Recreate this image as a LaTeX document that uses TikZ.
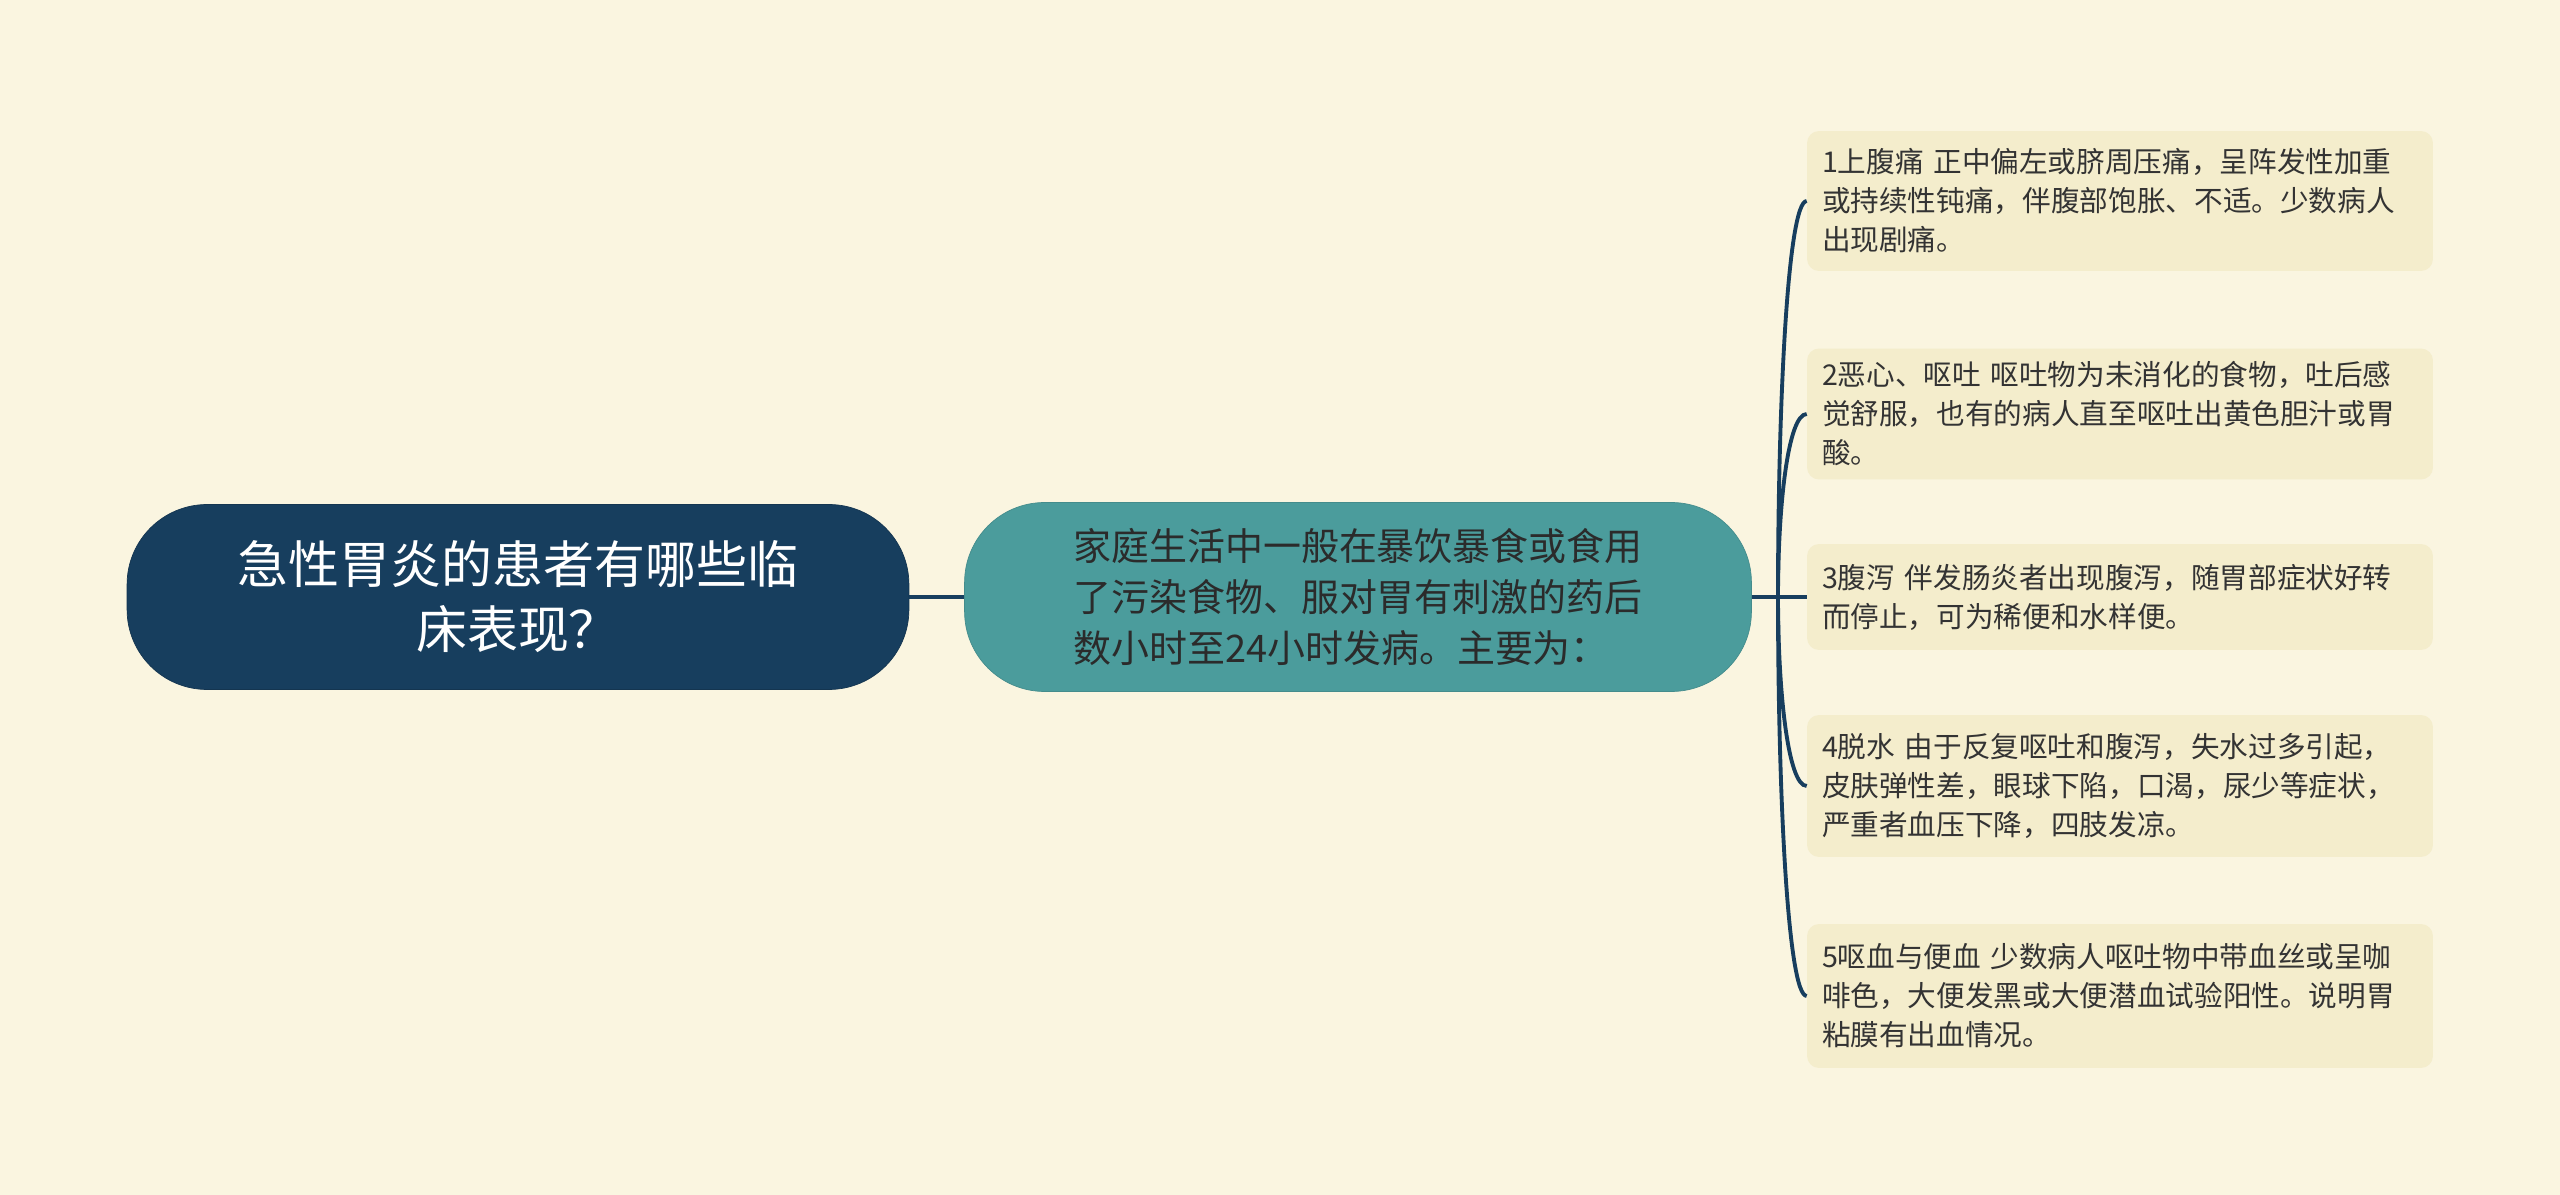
\documentclass[tikz,border=0pt]{standalone}
\usepackage{fontspec}
\setmainfont{Noto Sans CJK SC}
\usepackage{tikz}
\usetikzlibrary{calc}

\definecolor{bgcream}{HTML}{FAF5E0}
\definecolor{leaffill}{HTML}{F4EDCC}
\definecolor{rootblue}{HTML}{173E5E}
\definecolor{midteal}{HTML}{4B9C9C}
\definecolor{linkblue}{HTML}{173E5E}
\definecolor{textgrey}{HTML}{333333}

\begin{document}
\begin{tikzpicture}[x = 0.02cm, y = -0.02cm,
		rootbox/.style = {fill = rootblue, draw = rootblue!85!black, rounded corners = 1.6cm, minimum width = 15.64cm, minimum height = 3.7cm, text = white, align = center, font = \fontsize{29}{37}\selectfont},
		midbox/.style = {fill = midteal, draw = midteal!90!black, rounded corners = 1.6cm, minimum width = 15.74cm, minimum height = 3.78cm, text = textgrey!85!black, align = left, font = \fontsize{21.6}{29.2}\selectfont},
		leafbox/.style = {fill = leaffill, rounded corners = 0.24cm, text width = 11.92cm, inner xsep = 0.3cm, inner ysep = 0pt, align = left, text = textgrey, font = \fontsize{16.3}{22.2}\selectfont},
		link/.style = {draw = linkblue, line width = 2.2pt}]
				\useasboundingbox (0,0) rectangle (2560,1195);
				\fill [bgcream] (0,0) rectangle (2560,1195);
				% main topic and the one branch
				\node [rootbox] (root) at (518,597) {急性胃炎的患者有哪些临\\床表现？};
				\node [midbox] (mid) at (1358,597) {家庭生活中一般在暴饮暴食或食用\\了污染食物、服对胃有刺激的药后\\数小时至24小时发病。主要为：};
				% symptoms
				\node [leafbox, minimum height = 2.8cm] (l1) at (2120,201) {1上腹痛 正中偏左或脐周压痛，呈阵发性加重\\或持续性钝痛，伴腹部饱胀、不适。少数病人\\出现剧痛。};
				\node [leafbox, minimum height = 2.62cm] (l2) at (2120,414) {2恶心、呕吐 呕吐物为未消化的食物，吐后感\\觉舒服，也有的病人直至呕吐出黄色胆汁或胃\\酸。};
				\node [leafbox, minimum height = 2.12cm] (l3) at (2120,597) {3腹泻 伴发肠炎者出现腹泻，随胃部症状好转\\而停止，可为稀便和水样便。};
				\node [leafbox, minimum height = 2.84cm] (l4) at (2120,786) {4脱水 由于反复呕吐和腹泻，失水过多引起，\\皮肤弹性差，眼球下陷，口渴，尿少等症状，\\严重者血压下降，四肢发凉。};
				\node [leafbox, minimum height = 2.88cm] (l5) at (2120,996) {5呕血与便血 少数病人呕吐物中带血丝或呈咖\\啡色，大便发黑或大便潜血试验阳性。说明胃\\粘膜有出血情况。};
				% connectors
				\coordinate (hub) at (1778,597);
				\draw [link] (root.east) -- (mid.west);
				\draw [link] (mid.east) -- (hub);
				\draw [link] (hub) -- (l3.west);
				\foreach \leaf in {l1, l2, l4, l5}
					\draw [link] (hub) .. controls ($(hub)!0.5!(hub |- \leaf.west)$) and ($(hub |- \leaf.west)+(10,0)$) .. (\leaf.west);
		\end{tikzpicture}
\end{document}
